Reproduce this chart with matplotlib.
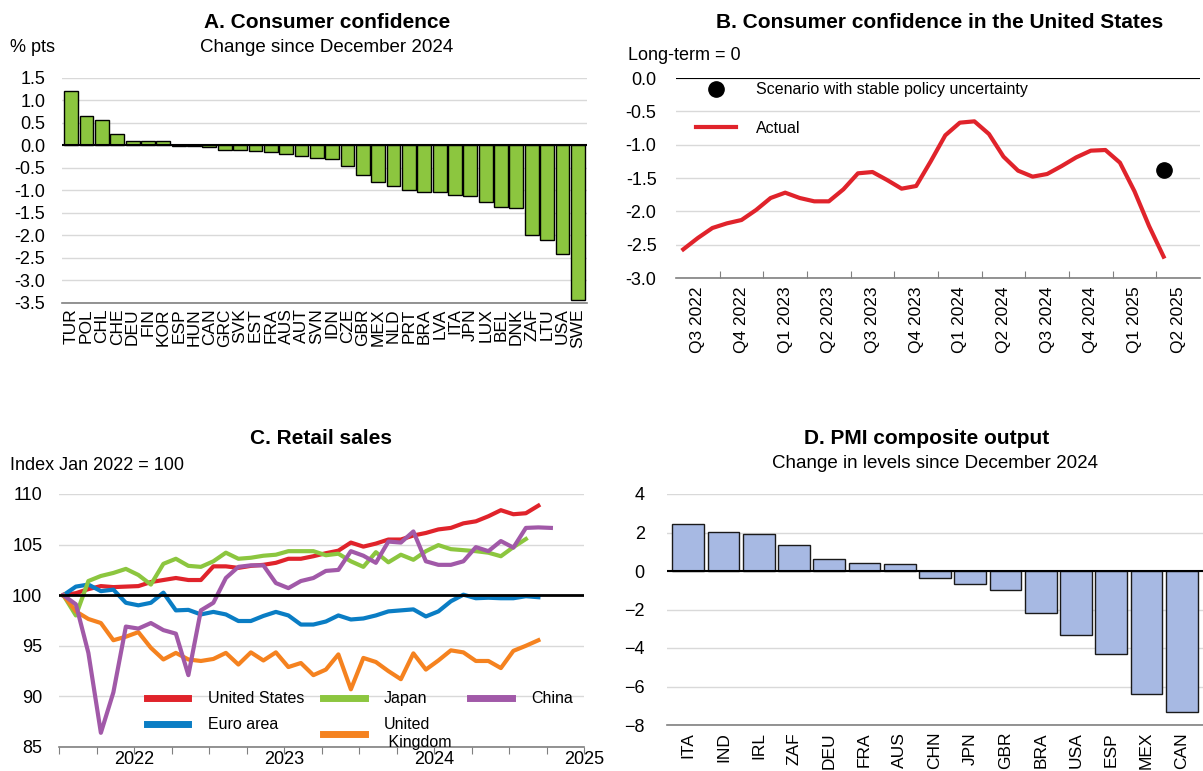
import matplotlib
matplotlib.use("Agg")
import matplotlib.pyplot as plt
import numpy as np

plt.rcParams['font.family'] = ['Liberation Sans', 'DejaVu Sans']

W, H = 1203, 771

# Panel A: consumer confidence, change since Dec 2024
a_countries = ["TUR", "POL", "CHL", "CHE", "DEU", "FIN", "KOR", "ESP", "HUN", "CAN", "GRC", "SVK",
               "EST", "FRA", "AUS", "AUT", "SVN", "IDN", "CZE", "GBR", "MEX", "NLD", "PRT", "BRA",
               "LVA", "ITA", "JPN", "LUX", "BEL", "DNK", "ZAF", "LTU", "USA", "SWE"]
a_values = [1.21, 0.65, 0.56, 0.26, 0.10, 0.095, 0.09, -0.01, -0.01, -0.04, -0.09, -0.11,
            -0.12, -0.14, -0.18, -0.23, -0.28, -0.31, -0.45, -0.66, -0.81, -0.90, -0.99, -1.03,
            -1.04, -1.10, -1.12, -1.25, -1.36, -1.38, -1.98, -2.10, -2.42, -3.44]

# Panel B: US consumer confidence, monthly Jul 2022 - Apr 2025
b_actual = [-2.57, -2.40, -2.25, -2.18, -2.13, -1.98, -1.80, -1.72, -1.80, -1.85, -1.85, -1.67,
            -1.43, -1.41, -1.53, -1.66, -1.62, -1.25, -0.86, -0.67, -0.65, -0.84, -1.18, -1.39,
            -1.48, -1.44, -1.32, -1.19, -1.09, -1.08, -1.27, -1.70, -2.22, -2.68]
b_scenario_month = 33
b_scenario = -1.38
b_quarters = ["Q3 2022", "Q4 2022", "Q1 2023", "Q2 2023", "Q3 2023", "Q4 2023",
              "Q1 2024", "Q2 2024", "Q3 2024", "Q4 2024", "Q1 2025", "Q2 2025"]

# Panel C: retail sales, monthly from Jan 2022, index Jan 2022 = 100
c_us = [100, 100.2, 100.6, 100.9, 100.8, 100.85, 100.9, 101.3, 101.5, 101.7,
        101.5, 101.5, 102.85, 102.85, 102.7, 102.9, 103.0, 103.2, 103.6, 103.6,
        103.85, 104.15, 104.4, 105.2, 104.8, 105.1, 105.5, 105.5, 105.9, 106.15,
        106.5, 106.65, 107.1, 107.3, 107.8, 108.4, 108.0, 108.1, 108.85]
c_euro = [100, 100.85, 101.05, 100.4, 100.55, 99.25, 99.0, 99.25, 100.25, 98.5,
          98.55, 98.1, 98.35, 98.1, 97.45, 97.45, 97.95, 98.35, 98.0, 97.1,
          97.1, 97.4, 98.0, 97.6, 97.7, 98.0, 98.4, 98.5, 98.6, 97.9,
          98.4, 99.4, 100.05, 99.7, 99.75, 99.7, 99.7, 99.9, 99.8]
c_japan = [100, 98.0, 101.4, 101.9, 102.2, 102.6, 102.0, 101.05, 103.1, 103.6,
           102.9, 102.8, 103.35, 104.2, 103.6, 103.7, 103.9, 104.0, 104.35, 104.35,
           104.35, 103.95, 104.1, 103.35, 102.8, 104.25, 103.25, 104.0, 103.5, 104.35,
           104.95, 104.55, 104.45, 104.35, 104.2, 103.85, 104.75, 105.55]
c_uk = [100, 98.4, 97.65, 97.25, 95.55, 95.9, 96.35, 94.8, 93.65, 94.3,
        93.65, 93.5, 93.7, 94.3, 93.15, 94.35, 93.55, 94.35, 92.9, 93.3,
        92.1, 92.65, 94.15, 90.7, 93.8, 93.4, 92.5, 91.7, 94.25, 92.65,
        93.55, 94.55, 94.35, 93.5, 93.5, 92.8, 94.5, 95.0, 95.55]
c_china = [100, 99.1, 94.3, 86.4, 90.4, 96.9, 96.7, 97.25, 96.55, 96.2,
           92.1, 98.5, 99.25, 101.7, 102.8, 102.95, 102.95, 101.2, 100.7, 101.4,
           101.7, 102.4, 102.5, 104.35, 103.9, 103.2, 105.3, 105.2, 106.3, 103.35,
           103.0, 103.0, 103.35, 104.75, 104.35, 105.35, 104.7, 106.65, 106.7, 106.65]
c_years = ["2022", "2023", "2024", "2025"]

# Panel D: PMI composite output, change since Dec 2024
d_countries = ["ITA", "IND", "IRL", "ZAF", "DEU", "FRA", "AUS", "CHN", "JPN", "GBR",
               "BRA", "USA", "ESP", "MEX", "CAN"]
d_values = [2.43, 2.05, 1.91, 1.34, 0.63, 0.43, 0.37, -0.37, -0.68, -1.0,
            -2.17, -3.34, -4.31, -6.4, -7.3]

RED = "#e0232b"
GREEN = "#8cc63f"
BLUE = "#0a7dc4"
ORANGE = "#f5821f"
PURPLE = "#a159a8"
GRID = "#d9d9d9"
AXIS = "#808080"
FS = 13
LFS = 11.5


def box(left, top, right, bottom):
    return [left / W, 1 - bottom / H, (right - left) / W, (bottom - top) / H]


def ftext(x, y, s, **kw):
    fig.text(x / W, 1 - y / H, s, **kw)


def style(ax, pad=12):
    for s in ["top", "right", "left"]:
        ax.spines[s].set_visible(False)
    ax.spines["bottom"].set_color(AXIS)
    ax.spines["bottom"].set_linewidth(1.2)
    ax.yaxis.grid(True, color=GRID, linewidth=1)
    ax.set_axisbelow(True)
    ax.tick_params(axis="y", length=0, labelsize=FS, pad=pad)
    ax.tick_params(axis="x", labelsize=FS)


fig = plt.figure(figsize=(W / 100, H / 100), dpi=100)

# ---- A
axA = fig.add_axes(box(62, 78, 587, 303))
style(axA, pad=12)
xa = np.arange(len(a_countries))
axA.bar(xa, a_values, width=0.9, color=GREEN, edgecolor="black", linewidth=1.0)
axA.axhline(0, color="black", linewidth=1.5)
axA.set_ylim(-3.5, 1.5)
axA.set_yticks(np.arange(-3.5, 1.51, 0.5))
axA.set_yticklabels([f"{v:.1f}" for v in np.arange(-3.5, 1.51, 0.5)])
axA.set_xlim(-0.6, len(a_countries) - 0.4)
axA.set_xticks(xa)
axA.set_xticklabels(a_countries, rotation=90, fontsize=12.5)
axA.tick_params(axis="x", length=0, pad=4)
ftext(327, 22, "A. Consumer confidence", ha="center", va="center", fontsize=15, fontweight="bold")
ftext(327, 47, "Change since December 2024", ha="center", va="center", fontsize=13.5)
ftext(10, 48, "% pts", ha="left", va="center", fontsize=FS)

# ---- B
axB = fig.add_axes(box(676, 78, 1200, 278))
style(axB, pad=14)
xb = np.arange(len(b_actual))
axB.plot(xb, b_actual, color=RED, linewidth=3, label="Actual", solid_joinstyle="round")
axB.plot([b_scenario_month], [b_scenario], "o", color="black", markersize=11,
         label="Scenario with stable policy uncertainty")
axB.axhline(0, color="black", linewidth=1.5)
axB.set_ylim(-3.0, 0.0)
axB.set_yticks(np.arange(-3.0, 0.01, 0.5))
axB.set_yticklabels([f"{v:.1f}" for v in np.arange(-3.0, 0.01, 0.5)])
axB.set_xlim(-0.5, 35.5)
axB.set_xticks(np.arange(2.5, 35, 3))
axB.set_xticklabels([])
axB.tick_params(axis="x", which="major", direction="in", length=5, color=AXIS)
axB.set_xticks(np.arange(1, 36, 3), minor=True)
axB.set_xticklabels(b_quarters, minor=True, rotation=90)
axB.tick_params(axis="x", which="minor", length=0, labelsize=12.5, pad=6)
h, l = axB.get_legend_handles_labels()
axB.legend(h[::-1], l[::-1], loc="upper left", bbox_to_anchor=(0.01, 1.05), frameon=False,
           fontsize=LFS, handlelength=2.5, handletextpad=1.25, labelspacing=1.45)
ftext(940, 22, "B. Consumer confidence in the United States", ha="center", va="center",
      fontsize=15, fontweight="bold")
ftext(628, 56, "Long-term = 0", ha="left", va="center", fontsize=FS)

# ---- C
axC = fig.add_axes(box(59, 494, 584, 747))
style(axC, pad=12)
axC.xaxis.remove_overlapping_locs = False
off = 0.35
axC.plot(np.arange(len(c_us)) + off, c_us, color=RED, linewidth=3, label="United States")
axC.plot(np.arange(len(c_euro)) + off, c_euro, color=BLUE, linewidth=3, label="Euro area")
axC.plot(np.arange(len(c_japan)) + off, c_japan, color=GREEN, linewidth=3, label="Japan")
axC.plot(np.arange(len(c_uk)) + off, c_uk, color=ORANGE, linewidth=3, label="United\n Kingdom")
axC.plot(np.arange(len(c_china)) + off, c_china, color=PURPLE, linewidth=3, label="China")
axC.axhline(100, color="black", linewidth=2)
axC.set_ylim(85, 110)
axC.set_yticks(np.arange(85, 111, 5))
axC.set_xlim(0, 42)
axC.set_xticks(np.arange(0, 43, 3))
axC.set_xticklabels([])
axC.tick_params(axis="x", which="major", direction="out", length=5, color=AXIS)
axC.set_xticks([6, 18, 30, 42], minor=True)
axC.set_xticklabels(c_years, minor=True)
axC.tick_params(axis="x", which="minor", length=0, labelsize=FS, pad=3)
axC.legend(loc="upper left", bbox_to_anchor=(0.14, 0.277), ncol=3, frameon=False, fontsize=LFS,
           handlelength=2.6, handletextpad=1.2, columnspacing=1.2, labelspacing=0.7)
for line in axC.get_legend().get_lines():
    line.set_linewidth(5)
ftext(321, 438, "C. Retail sales", ha="center", va="center", fontsize=15, fontweight="bold")
ftext(10, 465, "Index Jan 2022 = 100", ha="left", va="center", fontsize=FS)

# ---- D
axD = fig.add_axes(box(667, 494, 1203, 725))
style(axD, pad=16)
xd = np.arange(len(d_countries))
axD.bar(xd, d_values, width=0.9, color="#a7b9e3", edgecolor="#1a1a1a", linewidth=1.0)
axD.axhline(0, color="black", linewidth=1.5)
axD.set_ylim(-8, 4)
axD.set_yticks(np.arange(-8, 5, 2))
axD.set_xlim(-0.6, len(d_countries) - 0.4)
axD.set_xticks(xd)
axD.set_xticklabels(d_countries, rotation=90, fontsize=12.5)
axD.tick_params(axis="x", length=0, pad=5)
ftext(927, 438, "D. PMI composite output", ha="center", va="center", fontsize=15, fontweight="bold")
ftext(935, 463, "Change in levels since December 2024", ha="center", va="center", fontsize=13.5)

fig.savefig("out.png", dpi=100)
